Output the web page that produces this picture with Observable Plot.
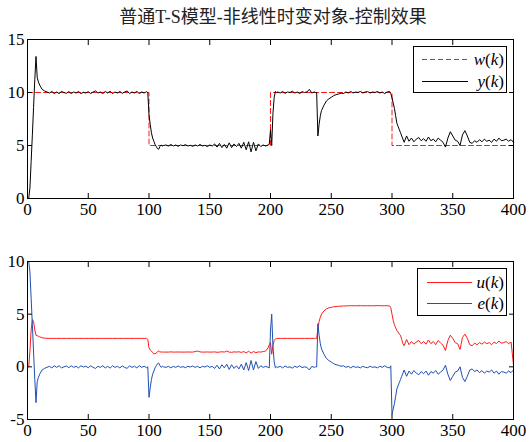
<!DOCTYPE html>
<html><head><meta charset="utf-8">
<script src="https://cdn.jsdelivr.net/npm/d3@7"></script>
<script src="https://cdn.jsdelivr.net/npm/@observablehq/plot@0.6"></script>
<style>
html,body{margin:0;padding:0;background:#fff;}
#wrap{position:relative;width:530px;height:442px;overflow:hidden;background:#fff;}
#title{position:absolute;left:0;width:546px;top:6px;text-align:center;font-family:"Liberation Serif","Noto Sans CJK SC",serif;font-size:18px;color:#222;line-height:22px;}
.p{position:absolute;left:0;font-family:"Liberation Serif",serif;}
.p text{font-family:"Liberation Serif",serif;}
.leg{position:absolute;left:0;top:0;}
</style></head>
<body><div id="wrap"><div id="title">普通T-S模型-非线性时变对象-控制效果</div></div>
<script>
// sample index k
const kIdx = [
  0,1,2,3,4,5,6,7,8,9,10,11,12,
  14,16,18,20,22,24,26,28,30,32, 34,36,38,40,42,44,46,48,50,52, 54,56,58,60,62,64,66,68,70,72, 74,76,78,80,82,84,86,88,90,92, 94,96,98,
  99,100,101,102,103,104,105,106,107,108,109,110,111,112,
  114,116,118,120,122,124,126,128,130,132, 134,136,138,140,142,144,146,148,150,152, 154,156,158,160,162,164,166,168,170,172, 174,176,178,180,182,184,186,188,190,192, 194,196,198,
  199,200,201,202,203,204,205,206,
  208,210,212,214,216,218,220,222,224,226,228,230,232,234,236,
  237,238,239,240,241,242,
  244,246,248,250,252,254,256,258,260,262, 264,266,268,270,272,274,276,278,280,282, 284,286,288,290,292,294,296,298,
  299,300,301,302,303,304,305,306,307,308,309,310,
  312,314,316,318,320,322,324,326,328,330, 332,334,336,338,340,342,344,346,348,350, 352,354,356,358,360,362,364,366,368,370, 372,374,376,378,380,382,384,386,388,390, 392,394,396,398,400
];
// output y(k)
const yVals = [
  0,0,1.0,3.5,6.0,8.6,11.2,13.4,11.4,11.0,10.7,10.5,10.3,
  10.15,10.05,9.95,10.1,9.9,10.05,9.9,10.1,10.0,9.92, 10.08,9.9,10.05,9.95,10.1,9.9,10.02,9.95,10.08,9.9, 10.05,10.15,9.95,10.05,9.9,10.1,9.95,10.12,9.9,10.05, 9.95,10.1,9.92,10.05,10.15,9.9,10.05,9.95,10.1,9.9, 10.05,9.95,10.08,
  10.0,7.9,7.0,6.2,5.7,5.4,5.1,4.9,4.7,4.65,4.9,5.05,4.95,5.0,
  5.05,4.95,5.1,4.95,5.05,4.92,5.05,4.98,5.08,4.95, 5.02,4.92,5.05,4.95,5.1,4.95,5.02,4.9,5.05,4.95, 5.15,4.85,5.2,4.8,5.1,4.75,5.25,4.8,5.15,4.9, 5.2,4.75,5.3,4.6,5.35,4.4,5.3,4.5,5.15,4.9, 5.05,4.95,5.05,
  5.1,6.5,5.0,8.0,9.5,10.1,10.0,10.05,
  9.95,10.1,9.92,10.05,10.0,10.12,9.95,10.05,9.9,10.08,10.0,10.05,10.3,9.95,10.05,
  10.0,10.0,5.9,7.0,7.8,8.3,
  8.8,9.2,9.4,9.55,9.7,9.8,9.85,9.95,9.9,10.05, 9.95,10.1,9.95,10.05,10.0,10.1,9.95,10.05,10.08,9.95, 10.05,10.0,10.1,9.95,10.05,9.9,10.05,10.1,
  9.9,9.5,9.0,8.5,7.8,7.1,6.8,6.5,6.2,5.9,5.6,5.3,
  5.9,5.4,5.7,5.35,5.6,5.75,5.45,5.65,5.4,5.8, 5.45,5.6,5.35,5.7,5.5,5.3,4.85,5.7,6.3,5.9, 5.5,5.4,5.0,6.0,6.4,5.9,5.3,5.2,5.45,5.3, 5.55,5.35,5.6,5.4,5.5,5.3,5.6,5.4,5.7,5.45, 5.5,5.6,5.4,5.55,5.3
];
// control u(k)
const uVals = [
  0,0,1.5,3.5,4.5,4.3,3.5,3.0,2.95,2.9,2.85,2.8,2.75,
  2.72,2.71,2.7,2.7,2.7,2.7,2.7,2.7,2.7,2.7, 2.7,2.7,2.7,2.7,2.7,2.7,2.7,2.7,2.7,2.7, 2.7,2.7,2.7,2.7,2.7,2.7,2.7,2.7,2.7,2.7, 2.7,2.7,2.7,2.7,2.7,2.7,2.7,2.7,2.7,2.7, 2.7,2.7,2.7,
  2.6,1.8,1.6,1.5,1.35,1.25,1.25,1.3,1.45,1.5,1.4,1.42,1.4,1.4,
  1.4,1.4,1.42,1.4,1.4,1.41,1.4,1.4,1.4,1.41, 1.4,1.4,1.45,1.5,1.42,1.4,1.4,1.41,1.4,1.4, 1.42,1.38,1.4,1.43,1.4,1.5,1.4,1.38,1.42,1.4, 1.43,1.37,1.45,1.32,1.48,1.3,1.45,1.35,1.42,1.4, 1.45,1.5,1.8,
  2.1,2.3,1.2,2.0,2.5,2.65,2.7,2.7,
  2.7,2.7,2.7,2.7,2.7,2.7,2.7,2.7,2.7,2.7,2.7,2.7,2.7,2.7,2.7,
  2.7,2.7,3.6,4.3,4.7,5.0,
  5.3,5.5,5.6,5.65,5.7,5.72,5.75,5.76,5.78,5.78, 5.8,5.8,5.8,5.8,5.8,5.81,5.8,5.8,5.8,5.8, 5.8,5.8,5.82,5.8,5.8,5.8,5.8,5.78,
  5.6,5.0,4.4,4.0,3.7,3.45,3.3,3.1,3.0,2.6,2.2,2.0,
  2.6,2.1,2.4,2.15,2.35,2.5,2.2,2.4,2.15,2.55, 2.2,2.4,2.1,2.5,2.25,2.05,1.55,2.5,3.0,2.7, 2.3,2.2,1.65,2.8,3.1,2.7,2.1,2.0,2.25,2.1, 2.3,2.15,2.35,2.2,2.3,2.1,2.35,2.2,2.45,2.25, 2.3,2.4,2.2,2.35,0.2
];
// error e(k)
const eVals = [
  10,10,9.0,6.5,4.0,1.4,-1.2,-3.4,-1.4,-1.0,-0.7,-0.5,-0.3,
  -0.15,-0.05,0.05,-0.1,0.1,-0.05,0.1,-0.1,0,0.08, -0.08,0.1,-0.05,0.05,-0.1,0.1,-0.02,0.05,-0.08,0.1, -0.05,-0.15,0.05,-0.05,0.1,-0.1,0.05,-0.12,0.1,-0.05, 0.05,-0.1,0.08,-0.05,-0.15,0.1,-0.05,0.05,-0.1,0.1, -0.05,0.05,-0.08,
  0,-2.9,-2.0,-1.2,-0.7,-0.4,-0.1,0.1,0.3,0.35,0.1,-0.05,0.05,0,
  -0.05,0.05,-0.1,0.05,-0.05,0.08,-0.05,0.02,-0.08,0.05, -0.02,0.08,-0.05,0.05,-0.1,0.05,-0.02,0.1,-0.05,0.05, -0.15,0.15,-0.2,0.2,-0.1,0.25,-0.25,0.2,-0.15,0.1, -0.2,0.25,-0.3,0.4,-0.35,0.6,-0.3,0.5,-0.15,0.1, -0.05,0.05,-0.05,
  -0.1,3.5,5.0,2.0,0.5,-0.1,0,-0.05,
  0.05,-0.1,0.08,-0.05,0,-0.12,0.05,-0.05,0.1,-0.08,0,-0.05,-0.3,0.05,-0.05,
  0,0,4.1,3.0,2.2,1.7,
  1.2,0.8,0.6,0.45,0.3,0.2,0.15,0.05,0.1,-0.05, 0.05,-0.1,0.05,-0.05,0,-0.1,0.05,-0.05,-0.08,0.05, -0.05,0,-0.1,0.05,-0.05,0.1,-0.05,-0.1,
  0.1,-4.5,-4.0,-3.5,-2.8,-2.1,-1.8,-1.5,-1.2,-0.9,-0.6,-0.3,
  -0.9,-0.4,-0.7,-0.35,-0.6,-0.75,-0.45,-0.65,-0.4,-0.8, -0.45,-0.6,-0.35,-0.7,-0.5,-0.3,0.15,-0.7,-1.3,-0.9, -0.5,-0.4,0,-1.0,-1.4,-0.9,-0.3,-0.2,-0.45,-0.3, -0.55,-0.35,-0.6,-0.4,-0.5,-0.3,-0.6,-0.4,-0.7,-0.45, -0.5,-0.6,-0.4,-0.55,-0.3
];
// reference w(k): step breakpoints
const wK = [0, 100, 100, 200, 200, 300, 300, 400];
const wV = [10, 10, 5, 5, 10, 10, 5, 5];
const xTicks = [0, 50, 100, 150, 200, 250, 300, 350, 400];
const yTicksTop = [0, 5, 10, 15];
const yTicksBot = [-5, 0, 5, 10];

const n = Math.min(kIdx.length, yVals.length, uVals.length, eVals.length);
const rows = d3.range(n).map(i => ({k: kIdx[i], y: yVals[i], u: uVals[i], e: eVals[i]}));
const wRows = wK.map((k, i) => ({k, w: wV[i]}));

const RED = "#ff1a1a", BLUE = "#1f4fb0";
const fontStyle = {fontFamily: "Liberation Serif, serif", fontSize: "17px", color: "#000", background: "transparent", overflow: "visible"};

function axes(yTicks) {
  return [
    Plot.axisX({anchor: "bottom", ticks: xTicks, tickSize: -5, tickPadding: 9, tickFormat: d => String(d), label: null}),
    Plot.axisX({anchor: "top", ticks: xTicks, tickSize: -5, tickFormat: () => "", label: null}),
    Plot.axisY({anchor: "left", ticks: yTicks, tickSize: -5, tickPadding: 8, tickFormat: d => String(d), label: null}),
    Plot.axisY({anchor: "right", ticks: yTicks, tickSize: -5, tickFormat: () => "", label: null}),
    Plot.frame({stroke: "#000", strokeWidth: 1})
  ];
}

const topPlot = Plot.plot({
  width: 530, height: 225,
  marginLeft: 27, marginRight: 17, marginTop: 39, marginBottom: 27,
  x: {domain: [0, 400]},
  y: {domain: [0, 15]},
  style: fontStyle,
  marks: [
    Plot.line(wRows, {x: "k", y: "w", stroke: RED, strokeWidth: 1, strokeDasharray: "5,3"}),
    Plot.line(rows, {x: "k", y: "y", stroke: "#000", strokeWidth: 1}),
    ...axes(yTicksTop)
  ]
});
topPlot.classList.add("p");
topPlot.style.top = "0px";

const botPlot = Plot.plot({
  width: 530, height: 217,
  marginLeft: 27, marginRight: 17, marginTop: 36, marginBottom: 23,
  x: {domain: [0, 400]},
  y: {domain: [-5, 10]},
  style: fontStyle,
  marks: [
    Plot.line(rows, {x: "k", y: "u", stroke: RED, strokeWidth: 1}),
    Plot.line(rows, {x: "k", y: "e", stroke: BLUE, strokeWidth: 1}),
    ...axes(yTicksBot)
  ]
});
botPlot.classList.add("p");
botPlot.style.top = "225px";

const wrap = document.getElementById("wrap");
wrap.appendChild(topPlot);
wrap.appendChild(botPlot);

// legends
function legendText(letter) {
  return `<tspan font-style="italic">${letter}</tspan>(<tspan font-style="italic">k</tspan>)`;
}
const legSvg = `
<svg class="leg" width="530" height="442" xmlns="http://www.w3.org/2000/svg" font-family="Liberation Serif, serif" font-size="17">
  <rect x="413.5" y="46.5" width="93" height="46" fill="#fff" stroke="#000" stroke-width="1"/>
  <line x1="422" x2="468" y1="59.5" y2="59.5" stroke="${RED}" stroke-width="1" stroke-dasharray="5,3"/>
  <text x="504" y="65" text-anchor="end">${legendText("w")}</text>
  <line x1="422" x2="468" y1="81.5" y2="81.5" stroke="#000"/>
  <text x="504" y="87" text-anchor="end">${legendText("y")}</text>
  <rect x="417.5" y="268.5" width="89" height="47" fill="#fff" stroke="#000" stroke-width="1"/>
  <line x1="427" x2="472" y1="282.5" y2="282.5" stroke="${RED}"/>
  <text x="504" y="288" text-anchor="end">${legendText("u")}</text>
  <line x1="427" x2="472" y1="303.5" y2="303.5" stroke="${BLUE}"/>
  <text x="504" y="309" text-anchor="end">${legendText("e")}</text>
</svg>`;
wrap.insertAdjacentHTML("beforeend", legSvg);
</script>
</body></html>
